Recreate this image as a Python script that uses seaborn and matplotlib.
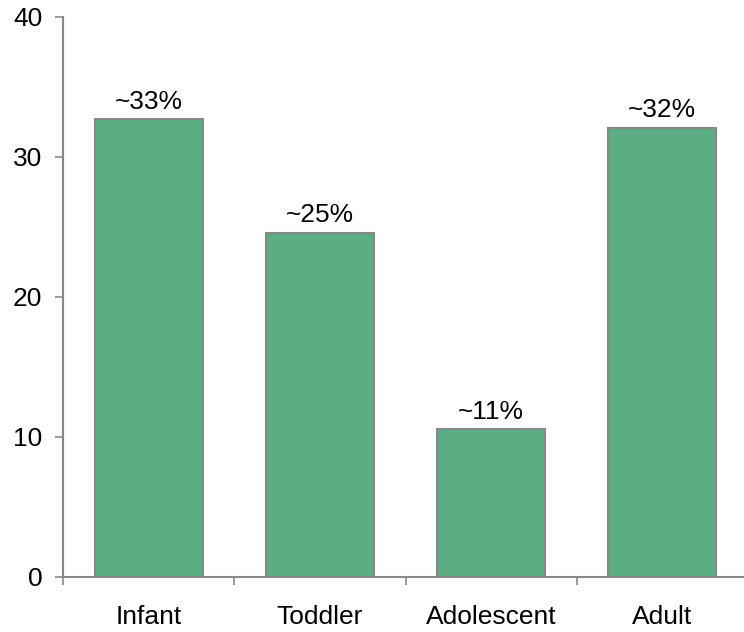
import matplotlib
matplotlib.use("Agg")
import matplotlib.pyplot as plt
import seaborn as sns
import pandas as pd
from matplotlib.ticker import FixedLocator, NullLocator

# Share of cases by age group (percent)
age_groups = ["Infant", "Toddler", "Adolescent", "Adult"]
share_pct = [32.7, 24.6, 10.55, 32.1]
y_ticks = [0, 10, 20, 30, 40]

sns.set_theme(style="white")
plt.rcParams["font.family"] = ["Liberation Sans", "DejaVu Sans"]

df = pd.DataFrame({"group": age_groups, "share": share_pct})

fig = plt.figure(figsize=(7.44, 6.32), dpi=100)
ax = fig.add_axes([63 / 744, 55 / 632, 685 / 744, 560 / 632])

sns.barplot(data=df, x="group", y="share", order=age_groups, color="#5bae83",
            saturation=1, width=0.63, edgecolor="#888888", linewidth=1.5, ax=ax)

for i, v in enumerate(share_pct):
    ax.annotate(f"~{v:.0f}%", xy=(i, v), xytext=(0, 4), textcoords="offset points",
                ha="center", va="bottom", fontsize=19, color="#000000")

ax.set_xlim(-0.5, 3.5)
ax.set_ylim(0, 40)
ax.set_yticks(y_ticks)
ax.set_xlabel("")
ax.set_ylabel("")

# Category tick marks sit between bars, labels sit under bar centres
ax.xaxis.set_minor_locator(FixedLocator([-0.5, 0.5, 1.5, 2.5, 3.5]))
ax.tick_params(axis="x", which="major", length=0, pad=20, labelsize=19, colors="#000000")
ax.tick_params(axis="x", which="minor", length=6, width=1.2, color="#888888", direction="out", bottom=True)
ax.tick_params(axis="y", which="major", length=6, width=1.2, color="#888888", direction="out",
               left=True, pad=9, labelsize=19, labelcolor="#000000")

for side in ("top", "right"):
    ax.spines[side].set_visible(False)
for side in ("left", "bottom"):
    ax.spines[side].set_color("#888888")
    ax.spines[side].set_linewidth(1.5)

fig.savefig("out.png", dpi=100)
